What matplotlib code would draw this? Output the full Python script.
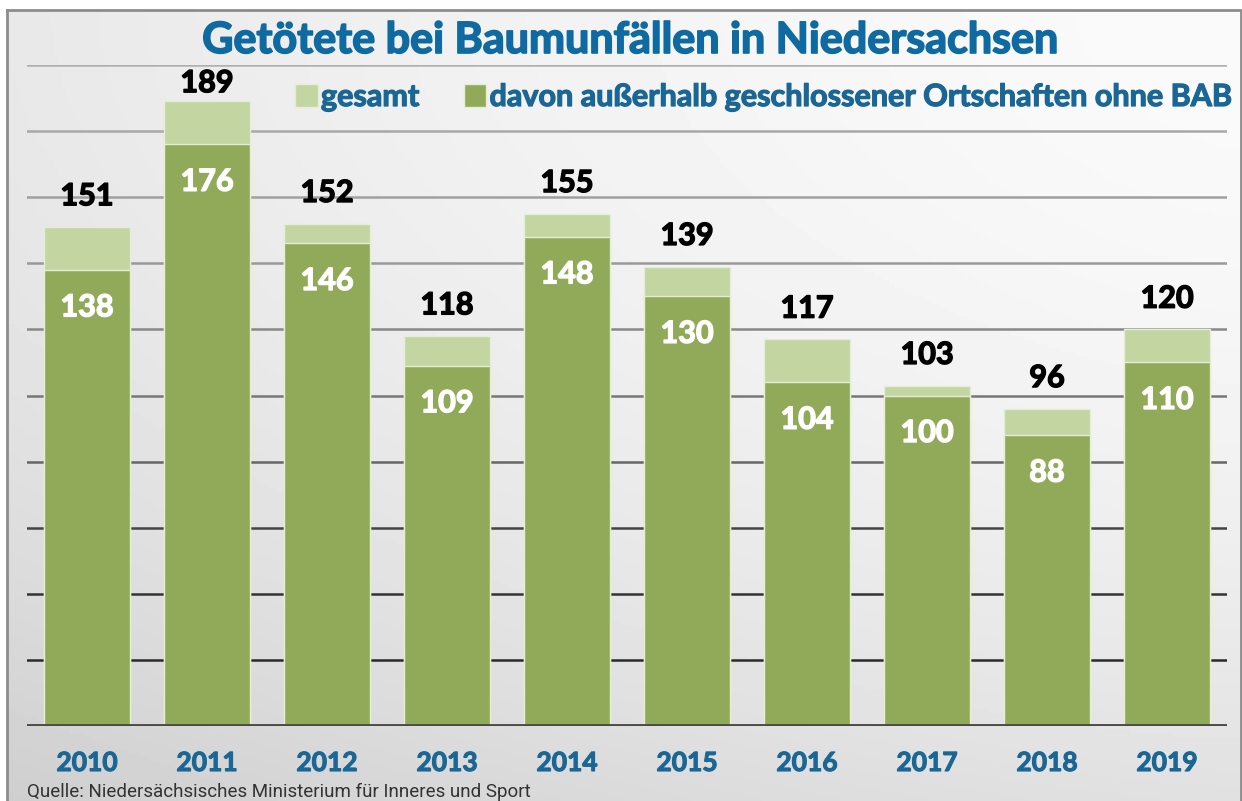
import numpy as np
import matplotlib.pyplot as plt
import matplotlib.patheffects as pe
from matplotlib.patches import Rectangle

# Daten
jahre = ["2010", "2011", "2012", "2013", "2014", "2015", "2016", "2017", "2018", "2019"]
gesamt = [151, 189, 152, 118, 155, 139, 117, 103, 96, 120]
ausserhalb = [138, 176, 146, 109, 148, 130, 104, 100, 88, 110]
grid_werte = [20, 40, 60, 80, 100, 120, 140, 160, 180, 200]

W, H = 1242, 801
fig = plt.figure(figsize=(W / 100, H / 100), dpi=100)
plt.rcParams['font.family'] = ['Lato', 'DejaVu Sans']


def fett(farbe, lw=1.0):
    # etwas kraeftigere Schrift ohne breiter zu werden
    return [pe.withStroke(linewidth=lw, foreground=farbe)]


# Hintergrund mit Verlauf
bg = fig.add_axes([0, 0, 1, 1], zorder=-10)
xx, yy = np.meshgrid(np.linspace(0, 1, 300), np.linspace(0, 1, 200))
shade = 0.98 - 0.07 * (1 - xx) ** 1.5 - 0.10 * yy ** 2
bg.imshow(shade, cmap="gray", vmin=0, vmax=1, extent=[0, W, H, 0], aspect="auto")
bg.add_patch(Rectangle((0, 0), W, 9, color="white", zorder=2))
bg.add_patch(Rectangle((0, 0), 6, H, color="white", zorder=2))
bg.plot([7, 1241, 1241], [10, 10, H], color="#8c8c8c", lw=2, zorder=3)
bg.plot([7, 7], [10, H], color="#8c8c8c", lw=2, zorder=3)
bg.set_xlim(0, W)
bg.set_ylim(H, 0)
bg.axis("off")

ax = fig.add_axes([27 / W, 75 / H, 1200 / W, 661 / H])
ax.patch.set_alpha(0)
x = np.arange(len(jahre))

# Gitterlinien (unten dunkel, oben hell)
grid_farben = ["#2a2a2a", "#333333", "#444444", "#666666", "#777777",
               "#888888", "#999999", "#a0a0a0", "#a8a8a8", "#b0b0b0"]
for g, c in zip(grid_werte, grid_farben):
    ax.axhline(g, color=c, lw=1.8, zorder=1)

hell = "#c3d5a1"
dunkel = "#91aa5a"
ax.bar(x, gesamt, width=0.71, color=hell, edgecolor="#e4edd6", lw=1, zorder=2, label="gesamt")
ax.bar(x, ausserhalb, width=0.71, color=dunkel, edgecolor="#e4edd6", lw=1, zorder=3,
       label="davon außerhalb geschlossener Ortschaften ohne BAB")
ax.axhline(0, color="#4a4a4a", lw=3.5, zorder=4)

for i in range(len(jahre)):
    # oberstes Label rueckt naeher an den Balken (Platz fuer Titel)
    off = 3 if gesamt[i] > 180 else 12
    ax.annotate(str(gesamt[i]), (x[i], gesamt[i]), xytext=(0, off), textcoords="offset points",
                ha="center", va="bottom", fontsize=22, fontweight="bold", color="black",
                annotation_clip=False, path_effects=fett("black"))
    ax.annotate(str(ausserhalb[i]), (x[i], ausserhalb[i]), xytext=(0, -27), textcoords="offset points",
                ha="center", va="center", fontsize=22, fontweight="bold", color="white", zorder=5,
                path_effects=fett("white"))

ax.set_xlim(-0.5, 9.5)
ax.set_ylim(0, 200)
ax.set_xticks(x)
ax.set_xticklabels(jahre, fontsize=19, fontweight="bold", color="#1a6796")
for t in ax.get_xticklabels():
    t.set_path_effects(fett("#1a6796", 0.8))
ax.tick_params(axis="x", length=0, pad=18)
ax.set_yticks([])
for s in ax.spines.values():
    s.set_visible(False)

fig.text(630 / W, 1 - 40 / H, "Getötete bei Baumunfällen in Niedersachsen", ha="center", va="center",
         fontsize=31, fontweight="bold", color="#0e6aa0", path_effects=fett("#0e6aa0", 1.2))

leg = ax.legend(loc="center left", bbox_to_anchor=((295 - 27) / 1200, (726 - 97) / 661), ncol=2,
                frameon=False, borderpad=0, borderaxespad=0,
                handlelength=0.75, handleheight=0.75, handletextpad=0.1, columnspacing=1.45,
                prop={"size": 22, "weight": "bold"})
for t in leg.get_texts():
    t.set_color("#1a6796")
    t.set_path_effects(fett("#1a6796", 0.9))

fig.text(27 / W, 1 - 792 / H, "Quelle: Niedersächsisches Ministerium für Inneres und Sport",
         ha="left", va="center", fontsize=13.5, color="#333333", family=["Roboto", "DejaVu Sans"])

fig.savefig("out.png", dpi=100)
